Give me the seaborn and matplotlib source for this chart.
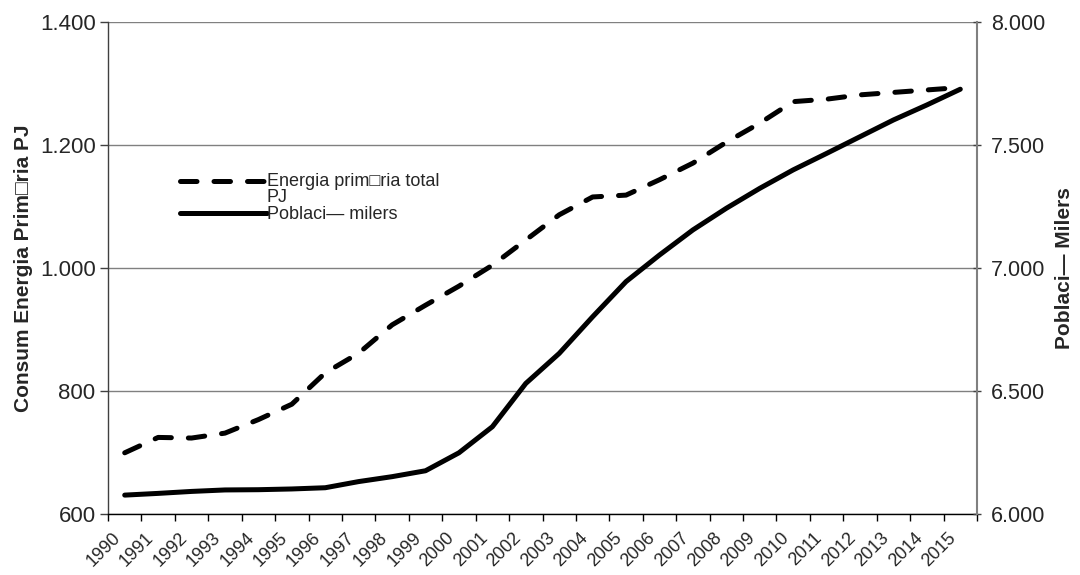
import matplotlib
matplotlib.use("Agg")
import matplotlib.pyplot as plt
import matplotlib.transforms as mtransforms
from matplotlib.legend_handler import HandlerLine2D
from matplotlib.ticker import FuncFormatter, FixedLocator
import seaborn as sns
import pandas as pd

years = [str(y) for y in range(1990, 2016)]
energia_pj = [700, 725, 724, 732, 754, 779, 830, 862, 908, 940, 971, 1005, 1046,
              1087, 1116, 1119, 1144, 1171, 1205, 1236, 1271, 1275, 1282, 1286, 1290, 1294]
poblacio_milers = [6078, 6085, 6093, 6099, 6100, 6103, 6108, 6133, 6153, 6177, 6250, 6356,
                   6532, 6654, 6803, 6946, 7054, 7156, 7244, 7325, 7400, 7467, 7535, 7603,
                   7664, 7728]

label_energia = "Energia prim\u25a1ria total\nPJ"
label_poblacio = "Poblaci\u2014 milers"
ylabel_left = "Consum Energia Prim\u25a1ria PJ"
ylabel_right = "Poblaci\u2014 Milers"

df = pd.DataFrame({"idx": range(len(years)), "any": years,
                   "energia": energia_pj, "poblacio": poblacio_milers})

sns.set_theme(style="white")
plt.rcParams["font.family"] = ["Liberation Sans", "DejaVu Sans"]

fig = plt.figure(figsize=(10.8, 5.75), dpi=100)
ax = fig.add_axes([108 / 1080, (575 - 514.3) / 575, (977 - 108) / 1080, 492 / 575])
ax2 = ax.twinx()

sns.lineplot(data=df, x="idx", y="energia", ax=ax, color="black", linewidth=3.6,
             linestyle=(0, (3.3, 3.4)), dash_capstyle="round", dash_joinstyle="round",
             label=label_energia, legend=False)
sns.lineplot(data=df, x="idx", y="poblacio", ax=ax2, color="black", linewidth=3.6,
             solid_capstyle="round", solid_joinstyle="round",
             label=label_poblacio, legend=False)

n = len(years)
for a in (ax, ax2):
    a.set_xlim(-0.5, n - 0.5)
    a.set_xlabel("")

ax.set_ylim(600, 1400)
ax2.set_ylim(6000, 8000)
ax.set_yticks([600, 800, 1000, 1200, 1400])
ax2.set_yticks([6000, 6500, 7000, 7500, 8000])
fmt = FuncFormatter(lambda v, p: f"{v:,.0f}".replace(",", "."))
ax.yaxis.set_major_formatter(fmt)
ax2.yaxis.set_major_formatter(fmt)

# horizontal grid
ax.yaxis.grid(True, color="#808080", linewidth=1.0)
ax.set_axisbelow(True)

# category boundaries as ticks, labels at category centres
ax.xaxis.set_major_locator(FixedLocator([i - 0.5 for i in range(n + 1)]))
ax.xaxis.set_minor_locator(FixedLocator(list(range(n))))
ax.set_xticklabels([], minor=False)
ax.set_xticklabels(years, minor=True, rotation=45, ha="right",
                   rotation_mode="anchor", fontsize=13)
ax.tick_params(axis="x", which="major", length=5, width=1, color="black", direction="out",
               bottom=True)
ax.tick_params(axis="x", which="minor", length=0, pad=11, bottom=True)
ax2.tick_params(axis="x", which="both", bottom=False, labelbottom=False)
shift = mtransforms.ScaledTranslation(-13 / 100, 0, fig.dpi_scale_trans)
for lbl in ax.get_xticklabels(minor=True):
    lbl.set_transform(lbl.get_transform() + shift)

ax.tick_params(axis="y", which="major", left=True, length=6, width=1, color="#404040",
               labelsize=16, pad=3)
ax2.tick_params(axis="y", which="major", right=True, length=6, width=1, color="#404040",
                labelsize=15.5, pad=7, direction="inout")

ax.set_ylabel(ylabel_left, fontsize=15, fontweight="bold", labelpad=5)
ax2.set_ylabel(ylabel_right, fontsize=15, fontweight="bold", labelpad=7)

for a in (ax, ax2):
    for s in a.spines.values():
        s.set_visible(False)
ax.spines["left"].set_visible(True)
ax.spines["left"].set_color("#404040")
ax.spines["bottom"].set_visible(True)
ax.spines["bottom"].set_color("black")
ax2.spines["right"].set_visible(True)
ax2.spines["right"].set_color("#808080")
ax2.spines["right"].set_linewidth(1.5)
for s in ("left", "bottom"):
    ax.spines[s].set_linewidth(1.0)


class FirstLineHandler(HandlerLine2D):
    """Legend key aligned with the first line of a two-line label."""

    def create_artists(self, legend, orig_handle, xdescent, ydescent, width, height,
                       fontsize, trans):
        artists = super().create_artists(legend, orig_handle, xdescent, ydescent,
                                         width, height, fontsize, trans)
        lift = mtransforms.Affine2D().translate(0, 0.5 * fontsize * 0.95)
        for a in artists:
            a.set_transform(lift + trans)
        return artists


h1, l1 = ax.get_legend_handles_labels()
h2, l2 = ax2.get_legend_handles_labels()
leg = ax2.legend(h1 + h2, l1 + l2, loc="upper left", bbox_to_anchor=(0.083, 0.694),
                 frameon=False, fontsize=13, handlelength=4.8, handletextpad=0.0,
                 labelspacing=0.0, borderpad=0, borderaxespad=0,
                 handler_map={h1[0]: FirstLineHandler()})
for t in leg.get_texts():
    t.set_linespacing(0.95)

fig.savefig("out.png", dpi=100)
